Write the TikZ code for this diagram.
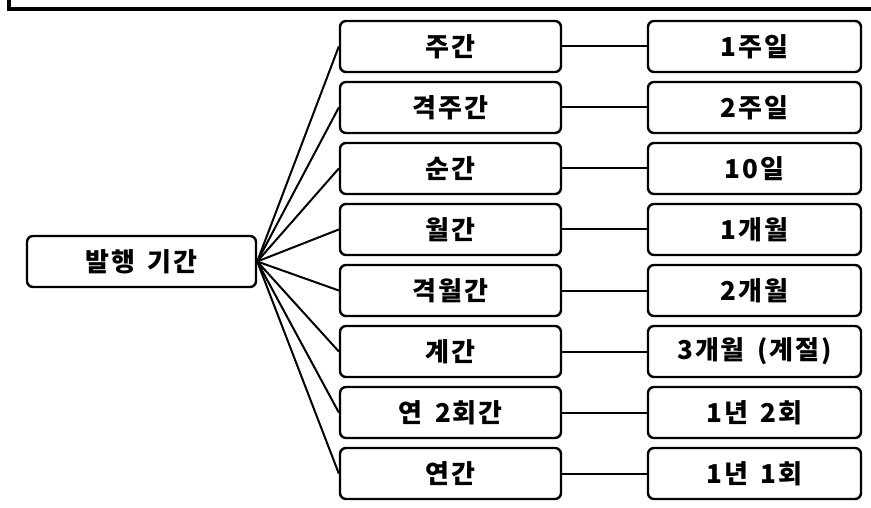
\documentclass[tikz,border=0pt]{standalone}
\usepackage{fontspec}
\setmainfont{Noto Sans CJK KR}[LetterSpace=7, WordSpace=1.6]
\usepackage{tikz}
\tikzstyle{rootbox} = [rectangle, rounded corners=6pt, minimum width=229pt, minimum height=51pt, text centered, draw=black, line width=2.4pt, font=\fontsize{26}{28}\selectfont\bfseries]
\tikzstyle{midbox} = [rectangle, rounded corners=6pt, minimum width=221pt, minimum height=51pt, text centered, draw=black, line width=2.4pt, font=\fontsize{26}{28}\selectfont\bfseries]
\tikzstyle{resbox} = [rectangle, rounded corners=6pt, minimum width=213pt, minimum height=51pt, text centered, draw=black, line width=2.4pt, font=\fontsize{26}{28}\selectfont\bfseries]
\tikzstyle{link} = [line width=2pt]
\tikzstyle{frame} = [line width=3.5pt]

\begin{document}
\begin{tikzpicture}[x=1pt, y=1pt, node distance=61pt]
        \useasboundingbox (0,0) rectangle (871,507);
        \draw[frame] (9,507) -- (9,498) -- (871,498);

        \node (root) [rootbox] at (141.5,245.5) {발행 기간};
        \node (m1) [midbox] at (450.5,460.5) {주간};
        \node (m2) [midbox, below of = m1] {격주간};
        \node (m3) [midbox, below of = m2] {순간};
        \node (m4) [midbox, below of = m3] {월간};
        \node (m5) [midbox, below of = m4] {격월간};
        \node (m6) [midbox, below of = m5] {계간};
        \node (m7) [midbox, below of = m6] {연 2회간};
        \node (m8) [midbox, below of = m7] {연간};

        \node (r1) [resbox, right of = m1, xshift=243pt] {1주일};
        \node (r2) [resbox, right of = m2, xshift=243pt] {2주일};
        \node (r3) [resbox, right of = m3, xshift=243pt] {10일};
        \node (r4) [resbox, right of = m4, xshift=243pt] {1개월};
        \node (r5) [resbox, right of = m5, xshift=243pt] {2개월};
        \node (r6) [resbox, right of = m6, xshift=243pt] {3개월 (계절)};
        \node (r7) [resbox, right of = m7, xshift=243pt] {1년 2회};
        \node (r8) [resbox, right of = m8, xshift=243pt] {1년 1회};

        \draw[link] (root.east) -- (m1.west);
        \draw[link] (root.east) -- (m2.west);
        \draw[link] (root.east) -- (m3.west);
        \draw[link] (root.east) -- (m4.west);
        \draw[link] (root.east) -- (m5.west);
        \draw[link] (root.east) -- (m6.west);
        \draw[link] (root.east) -- (m7.west);
        \draw[link] (root.east) -- (m8.west);

        \draw[link] (m1) -- (r1);
        \draw[link] (m2) -- (r2);
        \draw[link] (m3) -- (r3);
        \draw[link] (m4) -- (r4);
        \draw[link] (m5) -- (r5);
        \draw[link] (m6) -- (r6);
        \draw[link] (m7) -- (r7);
        \draw[link] (m8) -- (r8);
    \end{tikzpicture}
\end{document}
